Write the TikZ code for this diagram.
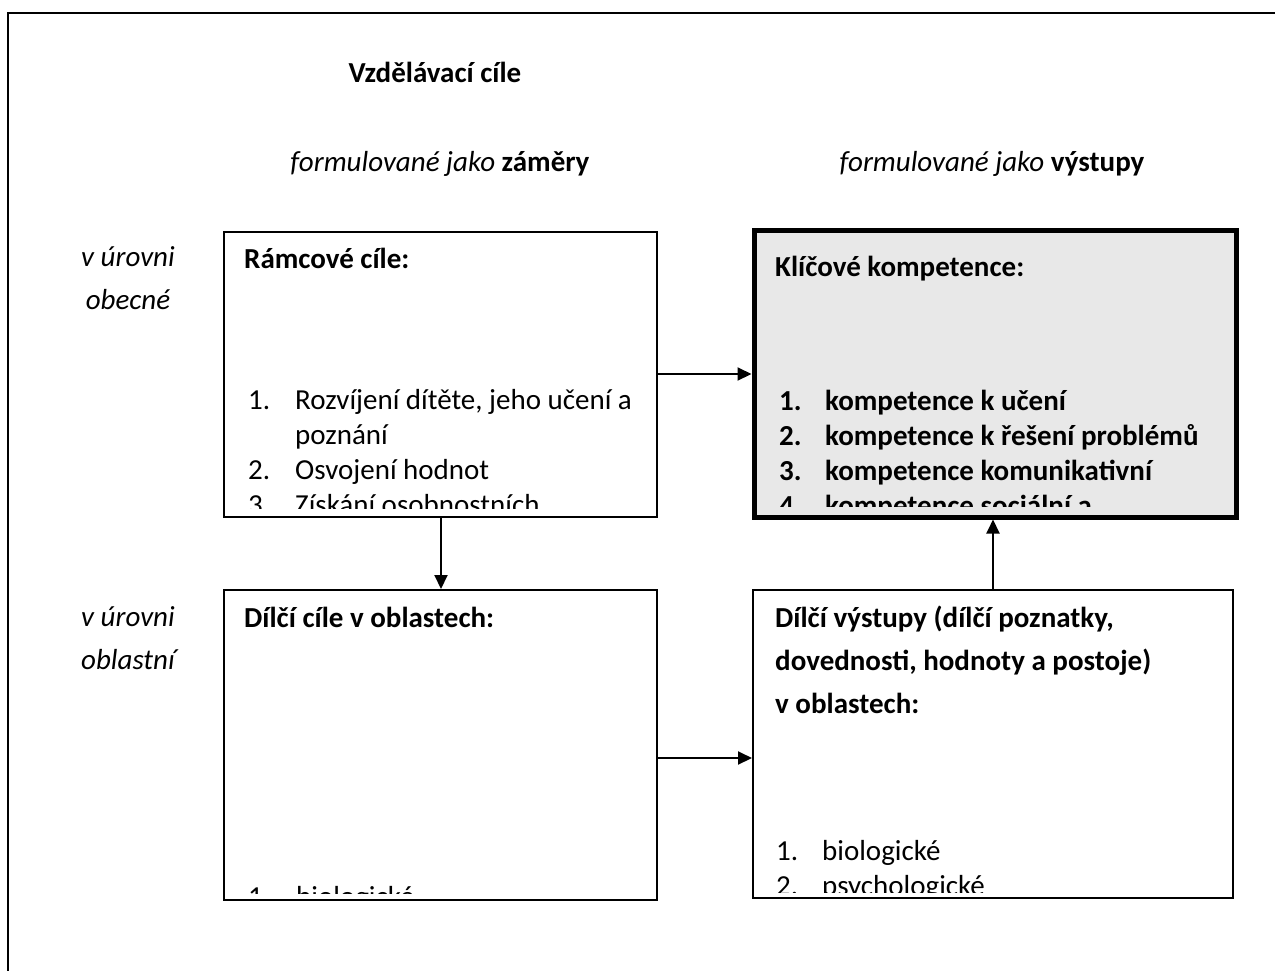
\documentclass[tikz,border=0pt]{standalone}
\usepackage{fontspec}
\setmainfont{Carlito}
\usetikzlibrary{arrows.meta}
\definecolor{boxgray}{RGB}{232,232,232}
\begin{document}
\begin{tikzpicture}[x=1pt,y=-1pt,
  framestyle/.style={draw, line width=2pt},
  keybox/.style={draw, line width=5pt, fill=boxgray, inner sep=0pt},
  txt/.style={anchor=base west, inner sep=0pt, font=\fontsize{29}{35}\selectfont},
  lbl/.style={anchor=base, inner sep=0pt, font=\fontsize{29}{35}\selectfont},
  side/.style={anchor=base, inner sep=0pt, font=\fontsize{29}{35}\selectfont\itshape},
  hd/.style={txt, font=\fontsize{29}{35}\selectfont\bfseries},
  arr/.style={line width=2pt, -{Triangle[length=14pt,width=13pt]}}
]
\path[use as bounding box, clip] (0,0) rectangle (1275,970);
\path[framestyle] (8,1000) -- (8,12.5) -- (1300,12.5);

% boxes
\node[draw, line width=2pt, inner sep=0pt, minimum width=433pt, minimum height=285pt] (A) at (440.5,374.5) {};
\node[keybox, minimum width=482pt, minimum height=287pt] (B) at (995,373.5) {};
\node[draw, line width=2pt, inner sep=0pt, minimum width=433pt, minimum height=310pt] (C) at (440.5,745) {};
\node[draw, line width=2pt, inner sep=0pt, minimum width=480pt, minimum height=308pt] (D) at (993,744) {};

% headings
\node[lbl, font=\fontsize{29}{35}\selectfont\bfseries] (title) at (435,82) {Vzdělávací cíle};
\node[lbl] (colL) at (440,171) {\textit{formulované jako} \textbf{záměry}};
\node[lbl] (colR) at (992,171) {\textit{formulované jako} \textbf{výstupy}};
\node[side] (r1a) at (128,266) {v úrovni};
\node[side] (r1b) at (128,309) {obecné};
\node[side] (r2a) at (128,626) {v úrovni};
\node[side] (r2b) at (128,669) {oblastní};

% box A text
\begin{scope}
\clip (226,234) rectangle (655,508);
\node[hd] (Ah) at (244,268) {Rámcové cíle:};
\node[txt] (A1n) at (248,409) {1.};
\node[txt] (A1) at (295,409) {Rozvíjení dítěte, jeho učení a};
\node[txt] (A1b) at (295,444) {poznání};
\node[txt] (A2n) at (248,479) {2.};
\node[txt] (A2) at (295,479) {Osvojení hodnot};
\node[txt] (A3n) at (248,514) {3.};
\node[txt] (A3) at (295,514) {Získání osobnostních};
\end{scope}

% box B text
\begin{scope}
\clip (757,233) rectangle (1233,506);
\node[hd] (Bh) at (775,276) {Klíčové kompetence:};
\node[hd] (B1n) at (779,410) {1.};
\node[hd] (B1) at (825,410) {kompetence k učení};
\node[hd] (B2n) at (779,445) {2.};
\node[hd] (B2) at (825,445) {kompetence k řešení problémů};
\node[hd] (B3n) at (779,480) {3.};
\node[hd] (B3) at (825,480) {kompetence komunikativní};
\node[hd] (B4n) at (779,515) {4.};
\node[hd] (B4) at (825,515) {kompetence sociální a};
\end{scope}

% box C text
\begin{scope}
\clip (226,592) rectangle (655,893);
\node[hd] (Ch) at (244,627) {Dílčí cíle v oblastech:};
\node[txt] (C1n) at (248,906) {1.};
\node[txt] (C1) at (296,906) {biologické};
\end{scope}

% box D text
\begin{scope}
\clip (755,592) rectangle (1231,892);
\node[hd] (Dh1) at (775,627) {Dílčí výstupy (dílčí poznatky,};
\node[hd] (Dh2) at (775,670) {dovednosti, hodnoty a postoje)};
\node[hd] (Dh3) at (775,713) {v oblastech:};
\node[txt] (D1n) at (776,860) {1.};
\node[txt] (D1) at (822,860) {biologické};
\node[txt] (D2n) at (776,895) {2.};
\node[txt] (D2) at (822,895) {psychologické};
\end{scope}

% connectors
\coordinate (yAB) at (0,374);
\coordinate (xAC) at (441,0);
\coordinate (xDB) at (993,0);
\coordinate (yCD) at (0,758);
\draw[arr] (A.east |- yAB) -- (B.west |- yAB);
\draw[arr] (A.south -| xAC) -- (C.north -| xAC);
\draw[arr] (D.north -| xDB) -- (B.south -| xDB);
\draw[arr] (C.east |- yCD) -- (D.west |- yCD);
\end{tikzpicture}
\end{document}
